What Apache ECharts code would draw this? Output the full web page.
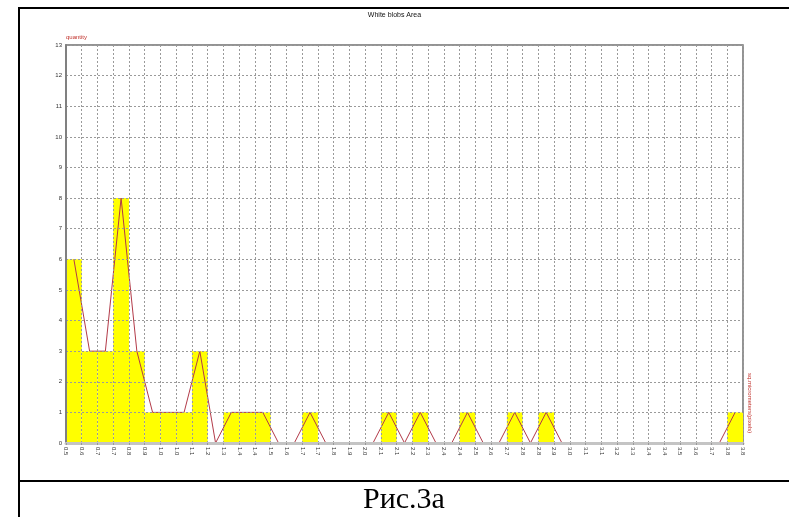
<!DOCTYPE html>
<html>
<head>
<meta charset="utf-8">
<script src="https://cdn.jsdelivr.net/npm/echarts@6/dist/echarts.min.js"></script>
<style>
html,body{margin:0;padding:0;background:#fff;}
#c{width:789px;height:517px;}
</style>
</head>
<body>
<div id="c"></div>
<script>
// Bin boundary tick labels (44 boundaries, 43 bins)
const tickLabels = ['0.5','0.6','0.7','0.7','0.8','0.9','1.0','1.0','1.1','1.2','1.3','1.4','1.4','1.5','1.6','1.7','1.7','1.8','1.9','2.0','2.1','2.1','2.2','2.3','2.4','2.4','2.5','2.6','2.7','2.8','2.8','2.9','3.0','3.1','3.1','3.2','3.3','3.4','3.4','3.5','3.6','3.7','3.8','3.8'];
// Counts per bin (quantity)
const counts = [6,3,3,8,3,1,1,1,3,0,1,1,1,0,0,1,0,0,0,0,1,0,1,0,0,1,0,0,1,0,1,0,0,0,0,0,0,0,0,0,0,0,1];
const yTicks = [0,1,2,3,4,5,6,7,8,9,10,11,12,13];
const titleText = 'White blobs Area';
const yName = 'quantity';
const xName = 'sq.micrometers(pixels)';
const caption = 'Рис.3а';

const binIndex = counts.map((_, i) => String(i));

const chart = echarts.init(document.getElementById('c'), null, {renderer: 'canvas'});
const option = {
  backgroundColor: '#fff',
  animation: false,
  grid: {left: 66, right: 46, top: 45, bottom: 74, show: true, borderColor: '#707070', borderWidth: 1.5, backgroundColor: '#fff'},
  xAxis: [
    {
      type: 'value', min: 0, max: tickLabels.length - 1, interval: 1, position: 'bottom', z: 4,
      axisLine: {show: true, lineStyle: {color: '#c4c4c4', width: 3}},
      axisTick: {show: true, length: 2, lineStyle: {color: '#999'}},
      axisLabel: {rotate: -90, fontSize: 6, color: '#333', margin: 4, fontFamily: 'Liberation Sans',
        formatter: v => tickLabels[v] !== undefined ? tickLabels[v] : ''},
      splitLine: {show: true, lineStyle: {color: '#9a9a9a', type: [2, 2], width: 1}}
    },
    {
      type: 'category', data: binIndex, boundaryGap: true, show: false
    }
  ],
  yAxis: {
    type: 'value', min: yTicks[0], max: yTicks[yTicks.length - 1], interval: 1, z: 4,
    axisLine: {show: true, lineStyle: {color: '#808080', width: 2}},
    axisTick: {show: false},
    axisLabel: {fontSize: 6, color: '#333', margin: 4, fontFamily: 'Liberation Sans'},
    splitLine: {show: true, lineStyle: {color: '#9a9a9a', type: [2, 2], width: 1}}
  },
  series: [
    {type: 'bar', xAxisIndex: 1, data: counts, barWidth: '100%', barCategoryGap: '0%', z: 2,
      itemStyle: {color: '#ffff00'}, silent: true},
    {type: 'line', xAxisIndex: 1, data: counts, symbol: 'none', z: 3,
      lineStyle: {color: '#b23a48', width: 1}, silent: true}
  ],
  graphic: [
    {type: 'text', left: 'center', top: 12, style: {text: titleText, fontSize: 7, fill: '#111', fontFamily: 'Liberation Sans'}},
    {type: 'text', x: 66, y: 34, style: {text: yName, fontSize: 6, fill: '#c0302a', fontFamily: 'Liberation Sans'}},
    {type: 'text', x: 750, y: 373, rotation: -Math.PI / 2, style: {text: xName, fontSize: 6, fill: '#c0302a', fontFamily: 'Liberation Sans', textAlign: 'left', textVerticalAlign: 'middle'}},
    {type: 'line', shape: {x1: 19, y1: 8, x2: 789, y2: 8}, style: {stroke: '#000', lineWidth: 2}},
    {type: 'line', shape: {x1: 19, y1: 7, x2: 19, y2: 517}, style: {stroke: '#000', lineWidth: 2}},
    {type: 'line', shape: {x1: 19, y1: 481, x2: 789, y2: 481}, style: {stroke: '#000', lineWidth: 2}},
    {type: 'text', x: 404, y: 500, style: {text: caption, fontSize: 30, fill: '#000', fontFamily: 'Liberation Serif', textAlign: 'center', textVerticalAlign: 'middle'}}
  ]
};
chart.setOption(option);
</script>
</body>
</html>
